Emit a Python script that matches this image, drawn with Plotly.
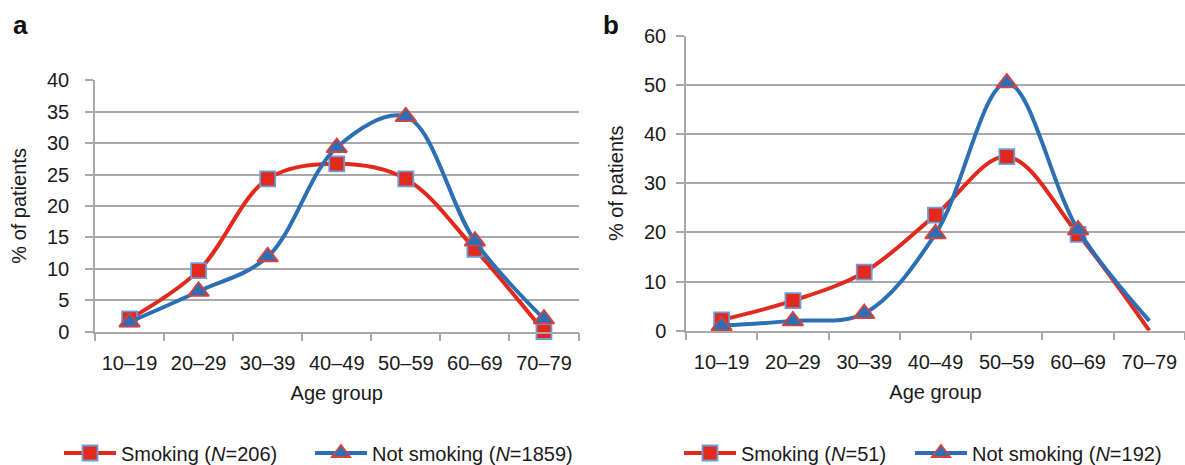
import plotly.graph_objects as go

age_groups = ["10–19", "20–29", "30–39", "40–49", "50–59", "60–69", "70–79"]

smoking_a = [2.0, 9.7, 24.3, 26.7, 24.3, 13.1, 0.0]
not_smoking_a = [1.5, 6.4, 11.9, 29.3, 34.2, 14.4, 2.0]

smoking_b = [2.2, 6.1, 11.9, 23.5, 35.4, 19.6, 0.0]
not_smoking_b = [1.0, 2.0, 3.5, 19.7, 50.4, 20.5, 2.0]

name_smk_a = "Smoking (<i>N</i>=206)"
name_non_a = "Not smoking (<i>N</i>=1859)"
name_smk_b = "Smoking (<i>N</i>=51)"
name_non_b = "Not smoking (<i>N</i>=192)"

RED = "#E1291D"
BLUE = "#2C6FB5"
SQ_EDGE = "#6C9BD6"
TRI_EDGE = "#D8423A"
GRID = "#A8A8A8"
FONT = "Liberation Sans, Arial, sans-serif"
TXT = "#1a1a1a"

fig = go.Figure()


def add_pair(xa, ya, smk, non, n_smk, n_non, leg_smk, leg_non, last_marker=True):
    n = len(age_groups)
    vis = [True] * (n - 1) + [last_marker]
    sq_fill = [RED if v else "rgba(0,0,0,0)" for v in vis]
    sq_line = [SQ_EDGE if v else "rgba(0,0,0,0)" for v in vis]
    tr_fill = [BLUE if v else "rgba(0,0,0,0)" for v in vis]
    tr_line = [TRI_EDGE if v else "rgba(0,0,0,0)" for v in vis]
    fig.add_trace(go.Scatter(
        x=age_groups, y=smk, name=n_smk, xaxis=xa, yaxis=ya, legend=leg_smk,
        mode="lines+markers", cliponaxis=False,
        line=dict(color=RED, width=4, shape="spline", smoothing=1.0),
        marker=dict(symbol="square", size=15, color=sq_fill,
                    line=dict(color=sq_line, width=1.8)),
    ))
    fig.add_trace(go.Scatter(
        x=age_groups, y=non, name=n_non, xaxis=xa, yaxis=ya, legend=leg_non,
        mode="lines+markers", cliponaxis=False,
        line=dict(color=BLUE, width=4, shape="spline", smoothing=1.0),
        marker=dict(symbol="triangle-up", size=18, color=tr_fill,
                    line=dict(color=tr_line, width=1.8)),
    ))


add_pair("x", "y", smoking_a, not_smoking_a, name_smk_a, name_non_a,
         "legend", "legend2", True)
add_pair("x2", "y2", smoking_b, not_smoking_b, name_smk_b, name_non_b,
         "legend3", "legend4", False)

W, H = 1185, 465

xaxis_common = dict(
    type="category", range=[-0.5, 6.5], tickson="boundaries",
    ticks="outside", ticklen=8, tickcolor=GRID, tickwidth=1.5,
    showline=True, linecolor=GRID, linewidth=1.5, showgrid=False,
    zeroline=False, tickfont=dict(size=20, color=TXT, family=FONT),
    ticklabelstandoff=13, automargin=False,
    title=dict(text="Age group", font=dict(size=20, color=TXT, family=FONT), standoff=13),
)
yaxis_common = dict(
    ticks="outside", ticklen=8, tickcolor=GRID, tickwidth=1.5,
    showline=True, linecolor=GRID, linewidth=1.5, automargin=False,
    showgrid=True, gridcolor=GRID, gridwidth=1.5, zeroline=False,
    tickfont=dict(size=20, color=TXT, family=FONT),
    title=dict(text="% of patients", font=dict(size=20, color=TXT, family=FONT)),
)


def leg(xpx):
    return dict(orientation="h", x=xpx / W, xanchor="left", y=(H - 453) / H,
                yanchor="middle", font=dict(size=20, color=TXT, family=FONT),
                itemwidth=52, bgcolor="rgba(0,0,0,0)")


fig.update_layout(
    width=W, height=H,
    margin=dict(l=0, r=0, t=0, b=0, autoexpand=False),
    paper_bgcolor="white", plot_bgcolor="white",
    font=dict(family=FONT, color=TXT),
    xaxis=dict(domain=[95 / W, 578.5 / W], anchor="y", **xaxis_common),
    yaxis=dict(domain=[(H - 331.5) / H, (H - 80.3) / H], anchor="x",
               range=[0, 40], dtick=5, tick0=0, ticklabelstandoff=12,
               **yaxis_common),
    xaxis2=dict(domain=[686 / W, 1.0], anchor="y2", **xaxis_common),
    yaxis2=dict(domain=[(H - 330.7) / H, (H - 35.7) / H], anchor="x2",
                range=[0, 60], dtick=10, tick0=0, ticklabelstandoff=6,
                **yaxis_common),
    showlegend=True,
    legend=leg(59),
    legend2=leg(310),
    legend3=leg(679),
    legend4=leg(910),
    annotations=[
        dict(text="<b>a</b>", x=11 / W, y=(H - 8) / H, xref="paper", yref="paper",
             xanchor="left", yanchor="top", showarrow=False,
             font=dict(size=26, color="#111", family=FONT)),
        dict(text="<b>b</b>", x=601 / W, y=(H - 8) / H, xref="paper", yref="paper",
             xanchor="left", yanchor="top", showarrow=False,
             font=dict(size=26, color="#111", family=FONT)),
    ],
)

fig.write_html("out.html", config={"displayModeBar": False},
               post_script="document.body.style.margin='0px';")
